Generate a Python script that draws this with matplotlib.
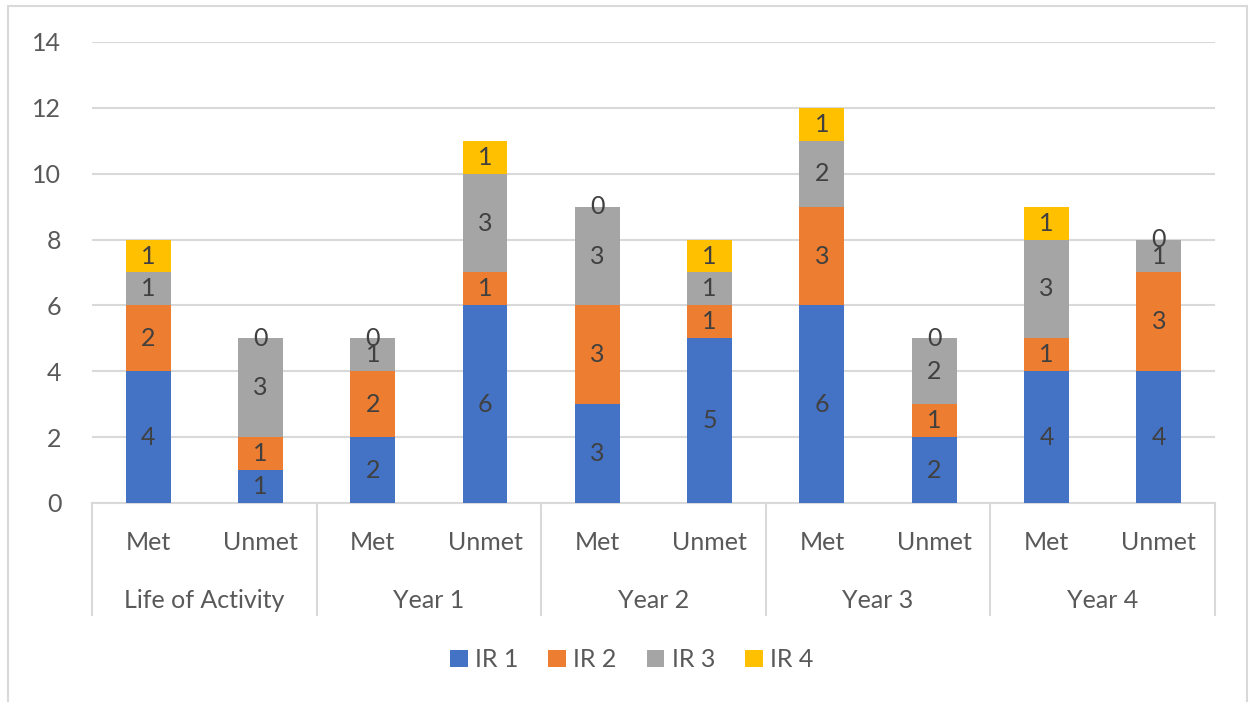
import matplotlib.pyplot as plt
import matplotlib.transforms as mtransforms
import numpy as np

groups = ["Life of Activity", "Year 1", "Year 2", "Year 3", "Year 4"]
statuses = ["Met", "Unmet"]
series = ["IR 1", "IR 2", "IR 3", "IR 4"]
ir1 = [4, 1, 2, 6, 3, 5, 6, 2, 4, 4]
ir2 = [2, 1, 2, 1, 3, 1, 3, 1, 1, 3]
ir3 = [1, 3, 1, 3, 3, 1, 2, 2, 3, 1]
ir4 = [1, 0, 0, 1, 0, 1, 1, 0, 1, 0]
colors = ["#4472C4", "#ED7D31", "#A5A5A5", "#FFC000"]

plt.rcParams["font.family"] = ["Lato", "DejaVu Sans"]

fig = plt.figure(figsize=(12.51, 7.02), dpi=100)
ax = fig.add_axes([0.0735, 0.2835, 0.8977, 0.6567])

x = np.arange(len(ir1))
bottom = np.zeros(len(ir1))
for name, vals, col in zip(series, [ir1, ir2, ir3, ir4], colors):
    bars = ax.bar(x, vals, 0.4, bottom=bottom, color=col, label=name,
                  zorder=3)
    ax.bar_label(bars, labels=[str(v) for v in vals], label_type="center",
                 fontsize=18, color="#404040", zorder=4)
    bottom += np.array(vals)

ax.set_xlim(-0.5, len(ir1) - 0.5)
ax.set_ylim(0, 14)
ax.set_yticks(range(0, 15, 2))
ax.yaxis.grid(True, color="#D9D9D9", linewidth=1.5, zorder=0)
ax.tick_params(axis="y", length=0, pad=22, labelsize=18,
               labelcolor="#595959")
ax.tick_params(axis="x", length=0, pad=20, labelsize=18,
               labelcolor="#595959")
ax.set_xticks(x)
ax.set_xticklabels(statuses * len(groups))
for s in ["top", "right", "left"]:
    ax.spines[s].set_visible(False)
ax.spines["bottom"].set_color("#D9D9D9")
ax.spines["bottom"].set_linewidth(1.5)

# group labels and separators below the axis
trans = mtransforms.blended_transform_factory(ax.transData, ax.transAxes)
for i, g in enumerate(groups):
    ax.text(2 * i + 0.5, -0.211, g, transform=trans, ha="center",
            va="center", fontsize=18, color="#595959")
for i in range(len(groups) + 1):
    ax.plot([2 * i - 0.5, 2 * i - 0.5], [0, -0.243], transform=trans,
            color="#D9D9D9", linewidth=1.5, clip_on=False)

fig.legend(loc="center", bbox_to_anchor=(0.505, 0.06), ncol=4,
           frameon=False, fontsize=18, labelcolor="#595959",
           handlelength=0.7, handleheight=0.7, handletextpad=0.3,
           columnspacing=1.2)

# outer chart border
fig.add_artist(plt.Rectangle((0.0065, -0.01), 0.9905, 1.0015,
                             transform=fig.transFigure, fill=False,
                             edgecolor="#D9D9D9", linewidth=1.5))

fig.savefig("out.png", dpi=100)
